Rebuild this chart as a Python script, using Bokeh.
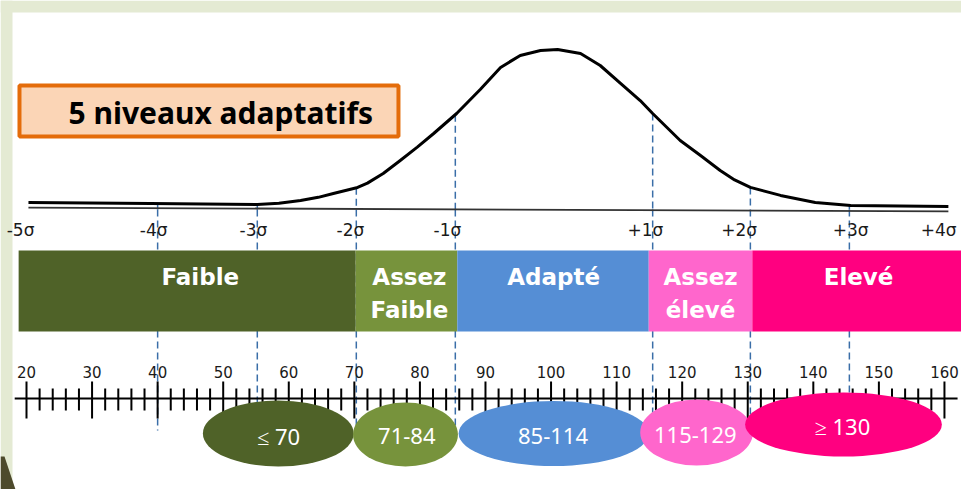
import numpy as np
from bokeh.plotting import figure
from bokeh.models import Range1d
from bokeh.core.properties import value
from bokeh.embed import file_html
from bokeh.resources import INLINE

# ---------------- data ----------------
# bell curve: IQ position and relative height (% of peak)
curve_iq = [20.3, 38.9, 55.2, 58.5, 61.8, 64.5, 66.8, 70.5, 72.0, 74.4, 77.0, 79.6,
            82.1, 85.6, 89.2, 92.3, 95.3, 98.4, 101.0, 104.5, 107.5, 110.6, 113.6,
            115.5, 119.7, 122.8, 125.8, 128.0, 130.4, 135.0, 140.3, 145.7, 160.6]
curve_height = [4.4, 3.8, 3.1, 3.9, 5.6, 7.6, 10.0, 13.8, 16.5, 22.5, 30.6, 39.0,
                47.5, 60.0, 75.0, 88.8, 96.3, 99.4, 100.0, 97.5, 90.0, 78.8, 68.1,
                60.0, 43.1, 33.8, 24.4, 18.5, 13.8, 8.8, 4.4, 2.5, 1.9]
baseline_iq = [20.3, 160.6]
baseline_height = [1.2, -1.2]

# sigma marks
sigma_labels = ["-5σ", "-4σ", "-3σ", "-2σ", "-1σ", "+1σ", "+2σ", "+3σ", "+4σ"]
sigma_label_iq = [19.1, 39.4, 54.6, 69.4, 84.2, 114.4, 128.7, 145.7, 159.1]
sigma_line_iq = [40.0, 55.2, 70.3, 85.4, 115.5, 130.4, 145.5]

# the five adaptive levels
level_names_1 = ["Faible", "Assez", "Adapté", "Assez", "Elevé"]
level_names_2 = ["", "Faible", "", "élevé", ""]
level_left = [18.8, 70.2, 85.7, 114.9, 130.7]
level_right = [70.2, 85.7, 114.9, 130.7, 163.0]
level_label_iq = [46.5, 78.4, 100.4, 122.8, 146.9]
level_colors = ["#4f6228", "#77933c", "#558ed5", "#ff66cc", "#ff0080"]

# IQ ranges (ellipses)
range_labels = ["≤ 70", "71-84", "85-114", "115-129", "≥ 130"]
range_center_iq = [58.4, 77.8, 100.4, 122.2, 144.6]
range_width_iq = [23.0, 16.0, 29.0, 17.2, 30.0]
range_label_iq = [58.45, 78.0, 100.3, 122.0, 144.45]

# IQ scale
major_ticks = [20, 30, 40, 50, 60, 70, 80, 90, 100, 110, 120, 130, 140, 150, 160]
minor_ticks = [22, 24, 26, 28, 32, 34, 36, 38, 42, 44, 46, 48, 52, 54, 56, 58,
               62, 64, 66, 68, 72, 74, 76, 78, 82, 84, 86, 88, 92, 94, 96, 98,
               102, 104, 106, 108, 112, 114, 116, 118, 122, 124, 126, 128,
               132, 134, 136, 138, 142, 144, 146, 148, 152, 154, 156, 158]
tick_labels = [str(t) for t in major_ticks]

title_text = "5 niveaux adaptatifs"

# ---------------- figure ----------------
W, H = 961, 489
X0, X1 = 16.035, 162.6          # IQ range covered by the page width
PX = (X1 - X0) / W              # IQ units per pixel
p = figure(width=W, height=H, output_backend="svg", toolbar_location=None,
           x_range=Range1d(X0, X1), y_range=Range1d(0, H),
           min_border=0, outline_line_color=None,
           background_fill_color="white", border_fill_color="white")
p.axis.visible = False
p.grid.visible = False
p.extra_y_ranges = {"curve": Range1d(-175.0, 130.625)}


def Y(page_y):
    # layout helper: vertical position measured from the top of the page
    return H - page_y


# decorative frame
p.quad(left=[X0], right=[X1], bottom=[Y(12)], top=[Y(0)],
       fill_color="#e4ead3", line_color=None)
p.quad(left=[X0], right=[X0 + 12 * PX], bottom=[Y(489)], top=[Y(0)],
       fill_color="#e4ead3", line_color=None)
p.patch(x=[X0, X0 + 4 * PX, X0 + 15 * PX, X0], y=[Y(456), Y(456), Y(489), Y(489)],
        fill_color="#4d4a2c", line_color=None)

# dashed sigma lines (upper part: from the curve down to the baseline)
tops = np.interp(sigma_line_iq, curve_iq, curve_height)
p.segment(x0=sigma_line_iq, y0=list(tops), x1=sigma_line_iq, y1=[0] * len(sigma_line_iq),
          y_range_name="curve", line_color="#3a6ea8", line_width=1.5, line_dash="7 4")
# lower part: from baseline through the level bar to the IQ scale
p.segment(x0=sigma_line_iq, y0=[Y(209)] * len(sigma_line_iq),
          x1=sigma_line_iq, y1=[Y(430)] * len(sigma_line_iq),
          line_color="#3a6ea8", line_width=1.5, line_dash="7 4")

# baseline and curve
p.line(baseline_iq, baseline_height, y_range_name="curve", line_color="#333333", line_width=1.8)
p.line(curve_iq, curve_height, y_range_name="curve", line_color="black", line_width=3,
       line_join="round")

# sigma labels
p.text(x=sigma_label_iq, y=[Y(229)] * len(sigma_label_iq), text=sigma_labels,
       text_font=value("DejaVu Sans"), text_font_size="17px", text_align="center",
       text_baseline="middle", text_color="#1a1a1a")

# level bars
p.quad(left=level_left, right=level_right, bottom=[Y(331)] * 5, top=[Y(250)] * 5,
       fill_color=level_colors, line_color=None)
p.text(x=level_label_iq, y=[Y(276)] * 5, text=level_names_1,
       text_font=value("DejaVu Sans"), text_font_style="bold", text_font_size="23px",
       text_align="center", text_baseline="middle", text_color="white")
p.text(x=level_label_iq, y=[Y(309)] * 5, text=level_names_2,
       text_font=value("DejaVu Sans"), text_font_style="bold", text_font_size="23px",
       text_align="center", text_baseline="middle", text_color="white")

# IQ scale
p.segment(x0=[18.2], y0=[Y(398)], x1=[162.0], y1=[Y(398)], line_color="black", line_width=2)
p.segment(x0=major_ticks, y0=[Y(381)] * len(major_ticks), x1=major_ticks,
          y1=[Y(418)] * len(major_ticks), line_color="black", line_width=2)
p.segment(x0=minor_ticks, y0=[Y(388)] * len(minor_ticks), x1=minor_ticks,
          y1=[Y(410)] * len(minor_ticks), line_color="black", line_width=2)
p.text(x=major_ticks, y=[Y(371)] * len(major_ticks), text=tick_labels,
       text_font=value("DejaVu Sans"), text_font_size="15px", text_align="center",
       text_baseline="middle", text_color="#1a1a1a")

# range ellipses
ell_y = [Y(433), Y(434), Y(433), Y(432), Y(424)]
ell_h = [66, 64, 65, 66, 64]
p.ellipse(x=range_center_iq, y=ell_y, width=range_width_iq, height=ell_h,
          fill_color=level_colors, line_color=None)
p.text(x=range_label_iq, y=[Y(435), Y(435), Y(435), Y(434), Y(425)],
       text=range_labels, text_font=value("Noto Sans"), text_font_size="22px",
       text_align="center", text_baseline="middle", text_color="white")

# title box
p.quad(left=[18.93], right=[76.73], bottom=[Y(136)], top=[Y(85)],
       fill_color="#fbd5b6", line_color="#e46c0a", line_width=4)
p.text(x=[26.4], y=[Y(112)], text=[title_text], text_font=value("Noto Sans"),
       text_font_style="bold", text_font_size="30px", text_align="left",
       text_baseline="middle", text_color="black")

open("out.html", "w").write(file_html(p, INLINE))
